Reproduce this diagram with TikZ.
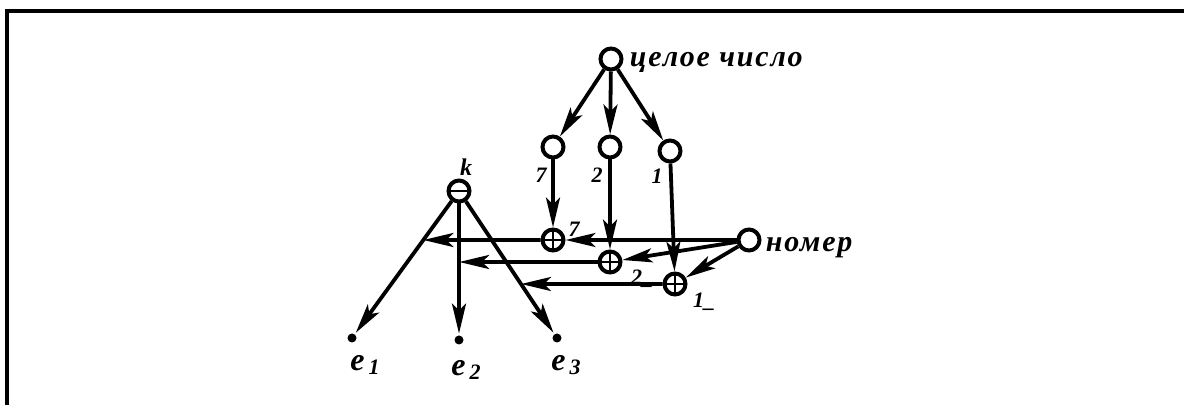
\documentclass[tikz,border=0pt]{standalone}
\usepackage{fontspec}
\setmainfont{Liberation Serif}
\newfontfamily\wordfont[LetterSpace=6]{Liberation Serif}
\usetikzlibrary{arrows.meta}
\definecolor{inkblack}{HTML}{000000}

\begin{document}
\begin{tikzpicture}[x=0.5pt, y=-0.5pt, line width=1.9pt, draw=inkblack,
  >={Stealth[length=15pt, width=7pt, inset=3.5pt]},
  font=\bfseries\itshape,
  hub/.style={circle, draw, line width=2pt, minimum size=10.5pt, inner sep=0pt},
  plushub/.style={hub, path picture={
      \draw[line width=0.7pt] (path picture bounding box.north) -- (path picture bounding box.south)
        (path picture bounding box.west) -- (path picture bounding box.east);}},
  minushub/.style={hub, path picture={
      \draw[line width=0.7pt] (path picture bounding box.west) -- (path picture bounding box.east);}},
  tipdot/.style={circle, fill, minimum size=4.5pt, inner sep=0pt},
  word/.style={font=\wordfont\bfseries\itshape\fontsize{15}{17}\selectfont, inner sep=0pt},
  digit/.style={font=\bfseries\itshape\fontsize{11}{13}\selectfont, inner sep=0pt}]
  \useasboundingbox (0,0) rectangle (1184,405);
  % frame
  \draw (7,405) -- (7,11) -- (1184,11);

  % nodes
  \node[hub] (whole) at (611,59) {};
  \node[hub] (v7) at (553,147) {};
  \node[hub] (v2) at (610,147) {};
  \node[hub] (v1) at (670,151) {};
  \node[minushub] (k) at (459,191) {};
  \node[plushub] (s7) at (553,240) {};
  \node[plushub] (s2) at (610,262) {};
  \node[plushub] (s1) at (675,284) {};
  \node[hub] (num) at (749,240) {};
  \node[tipdot] (e1) at (352,338) {};
  \node[tipdot] (e2) at (459,340) {};
  \node[tipdot] (e3) at (557,338) {};

  % texts
  \node[word, anchor=base west] (wholetext) at (628,67) {целое число};
  \node[word, anchor=base west] (numtext) at (764,252) {номер};
  \node[digit] (l7) at (541,175) {7};
  \node[digit] (l2) at (597,175) {2};
  \node[digit] (l1) at (657,176) {1};
  \node[digit, font=\bfseries\itshape\fontsize{12}{14}\selectfont] (lk) at (466,167) {k};
  \node[digit] (ls7) at (574,229) {7};
  \node[digit] (ls2) at (642,279) {2\_};
  \node[digit] (ls1) at (704,302) {1\_};
  \foreach \i/\x/\y in {1/365/371, 2/466/376, 3/566/371}
    \node[word, anchor=base, font=\bfseries\itshape\fontsize{16}{18}\selectfont] (et\i) at (\x,\y)
      {e\kern2pt\raisebox{-2pt}{\fontsize{11}{12}\selectfont\i}};

  % meeting points on the lines from k
  \coordinate (m1) at (intersection of k--e1 and s7--num);
  \coordinate (m2) at (intersection of k--e2 and s2--{(0,262)});
  \coordinate (m3) at (intersection of k--e3 and s1--{(0,284)});

  % connectors
  \foreach \t in {v7, v2, v1}
    \draw[->] (whole) -- (\t);
  \draw[->] (v7) -- (s7);
  \draw[->] (v2) -- (s2);
  \draw[->] (v1) -- (s1);
  \draw[->] (num) -- (s7);
  \draw[->] (num) -- (s2);
  \draw[->] (num) -- (s1);
  \draw[->] (s7) -- (m1);
  \draw[->] (s2) -- (m2);
  \draw[->] (s1) -- (m3);
  \foreach \t in {e1, e2, e3}
    \draw[->] (k) -- (\t);
\end{tikzpicture}
\end{document}
